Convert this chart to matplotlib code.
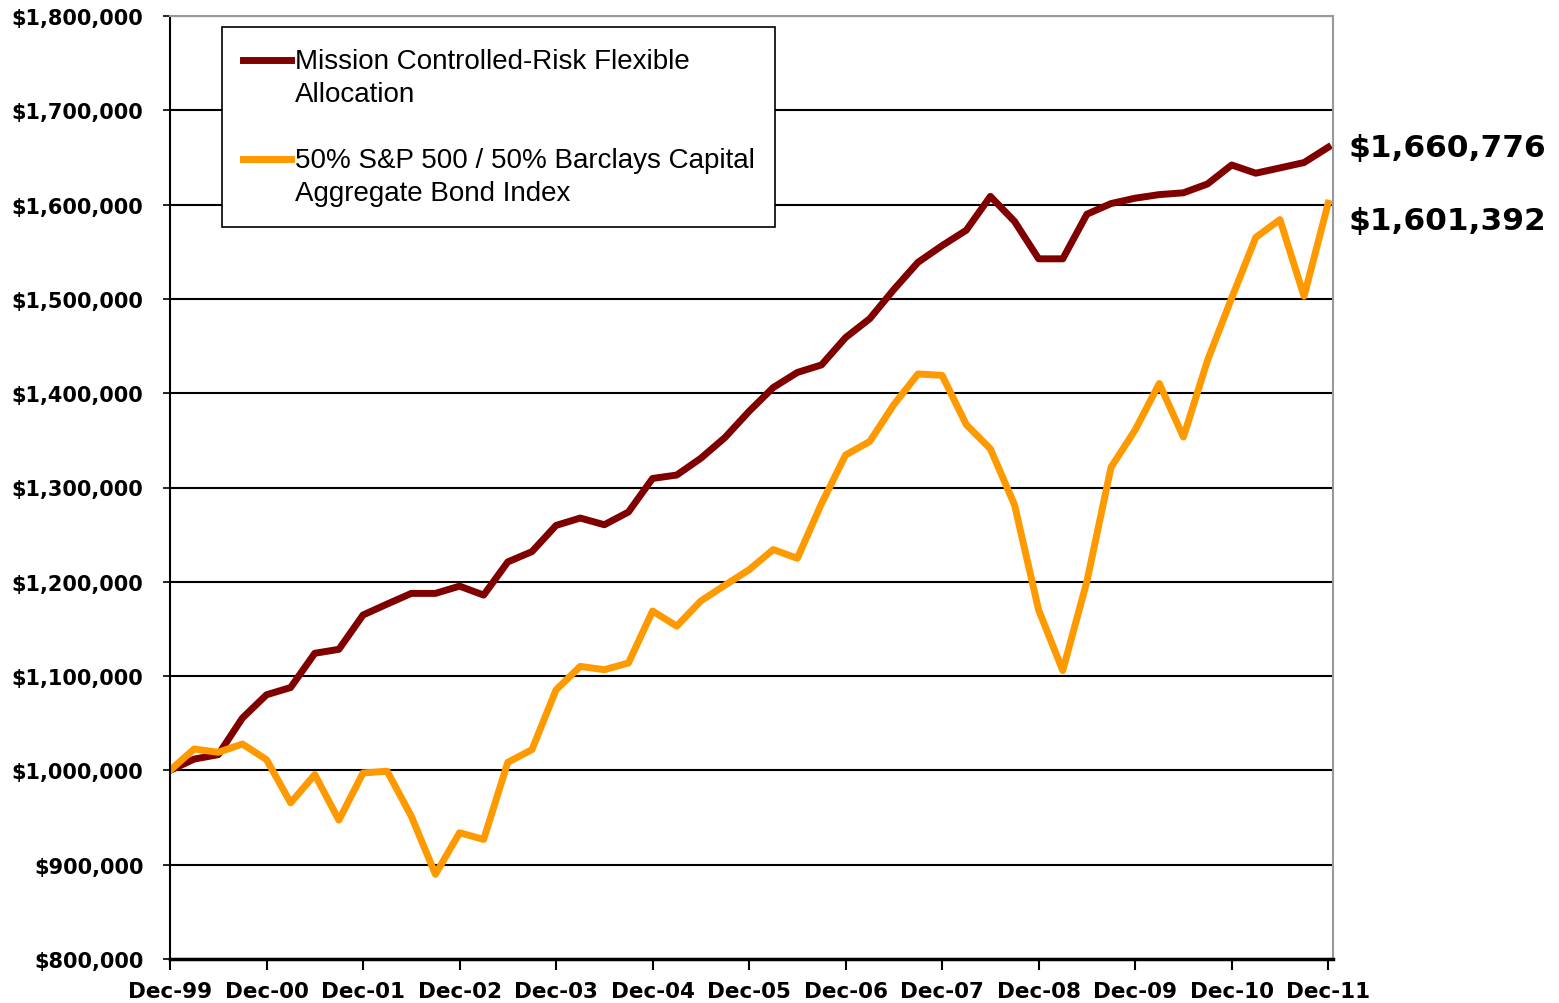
import numpy as np
import matplotlib
matplotlib.use("Agg")
import matplotlib.pyplot as plt
from matplotlib.ticker import FuncFormatter
from matplotlib.legend_handler import HandlerLine2D

# quarterly values, Dec-99 .. Dec-11
mission = [1000000, 1012000, 1016700, 1055500, 1080200, 1087900, 1124200, 1128400,
           1164800, 1176400, 1187700, 1187700, 1195400, 1185900, 1221100, 1232000,
           1259800, 1267600, 1260500, 1274000, 1309600, 1313200, 1331000, 1353000,
           1380800, 1406000, 1422000, 1430000, 1459000, 1479000, 1510000, 1538800,
           1556500, 1572800, 1608700, 1582200, 1542500, 1542500, 1589800, 1601100,
           1606800, 1610600, 1612500, 1621900, 1642000, 1633300, 1638900, 1644600,
           1660776]
blend = [1000000, 1022700, 1019200, 1028000, 1011400, 965600, 995600, 947300,
         997300, 999100, 951500, 889800, 933900, 926800, 1008600, 1022000,
         1085400, 1110300, 1106800, 1113900, 1169000, 1153000, 1179700, 1196400,
         1212800, 1234200, 1224900, 1282900, 1334500, 1348800, 1387900, 1420400,
         1418900, 1366700, 1341000, 1281700, 1170100, 1105900, 1200400, 1321400,
         1361000, 1410200, 1353500, 1434800, 1500900, 1565200, 1584100, 1502800,
         1601392]
tick_labels = ["Dec-99", "Dec-00", "Dec-01", "Dec-02", "Dec-03", "Dec-04", "Dec-05",
               "Dec-06", "Dec-07", "Dec-08", "Dec-09", "Dec-10", "Dec-11"]
names = ["Mission Controlled-Risk Flexible\nAllocation",
         "50% S&P 500 / 50% Barclays Capital\nAggregate Bond Index"]


class TopLineHandler(HandlerLine2D):
    # put the legend line level with the first text line
    def create_artists(self, legend, orig_handle, xdescent, ydescent,
                       width, height, fontsize, trans):
        arts = super().create_artists(legend, orig_handle, xdescent, ydescent,
                                      width, height, fontsize, trans)
        for a in arts:
            a.set_ydata(np.asarray(a.get_ydata()) + 0.65 * fontsize)
        return arts


fig = plt.figure(figsize=(15.59, 10.04), dpi=100)
ax = fig.add_axes([170 / 1559, 1 - 960 / 1004, (1333 - 170) / 1559, (960 - 17) / 1004])

q = np.arange(len(mission))
ax.plot(q, mission, color="#800000", lw=5, label=names[0])
ax.plot(q, blend, color="#FF9900", lw=5, label=names[1])

ax.set_xlim(0, 48.2)
ax.set_ylim(800000, 1800000)
ax.set_yticks(np.arange(800000, 1800001, 100000))
ax.yaxis.set_major_formatter(FuncFormatter(lambda v, p: "${:,.0f}".format(v)))
ax.set_xticks(np.arange(0, 49, 4))
ax.set_xticklabels(tick_labels)
ax.grid(axis="y", color="black", lw=1.5)
ax.set_axisbelow(True)

for lab in ax.get_yticklabels():
    lab.set_fontfamily("DejaVu Sans")
    lab.set_fontweight("bold")
    lab.set_fontsize(15)
for lab in ax.get_xticklabels():
    lab.set_fontfamily("DejaVu Sans")
    lab.set_fontweight("bold")
    lab.set_fontsize(15.5)
ax.tick_params(axis="x", direction="out", length=8, width=1.5, pad=8)
ax.tick_params(axis="y", direction="out", length=5, width=1.2, pad=14)

ax.spines["left"].set_linewidth(1.5)
ax.spines["bottom"].set_linewidth(2.5)
for s in ["top", "right"]:
    ax.spines[s].set_color("#999999")
    ax.spines[s].set_linewidth(1.5)

leg = ax.legend(loc="upper left", bbox_to_anchor=(0.0447, 0.988), frameon=True,
                fancybox=False, edgecolor="black", framealpha=1,
                prop={"family": "Liberation Sans", "size": 20},
                handlelength=1.75, handletextpad=0.12, labelspacing=1.45,
                borderpad=0.75, borderaxespad=0,
                handler_map={plt.Line2D: TopLineHandler()})
leg.get_frame().set_linewidth(1.2)
for t in leg.get_texts():
    t.set_linespacing(1.35)

# end value labels
ax.annotate("${:,.0f}".format(mission[-1]), xy=(q[-1], mission[-1]),
            xycoords="data", xytext=(20, 0), textcoords="offset pixels",
            ha="left", va="center", fontsize=22.5, fontweight="bold",
            family="DejaVu Sans", annotation_clip=False)
ax.annotate("${:,.0f}".format(blend[-1]), xy=(q[-1], blend[-1]),
            xycoords="data", xytext=(20, -17), textcoords="offset pixels",
            ha="left", va="center", fontsize=22.5, fontweight="bold",
            family="DejaVu Sans", annotation_clip=False)

fig.savefig("out.png", dpi=100)
